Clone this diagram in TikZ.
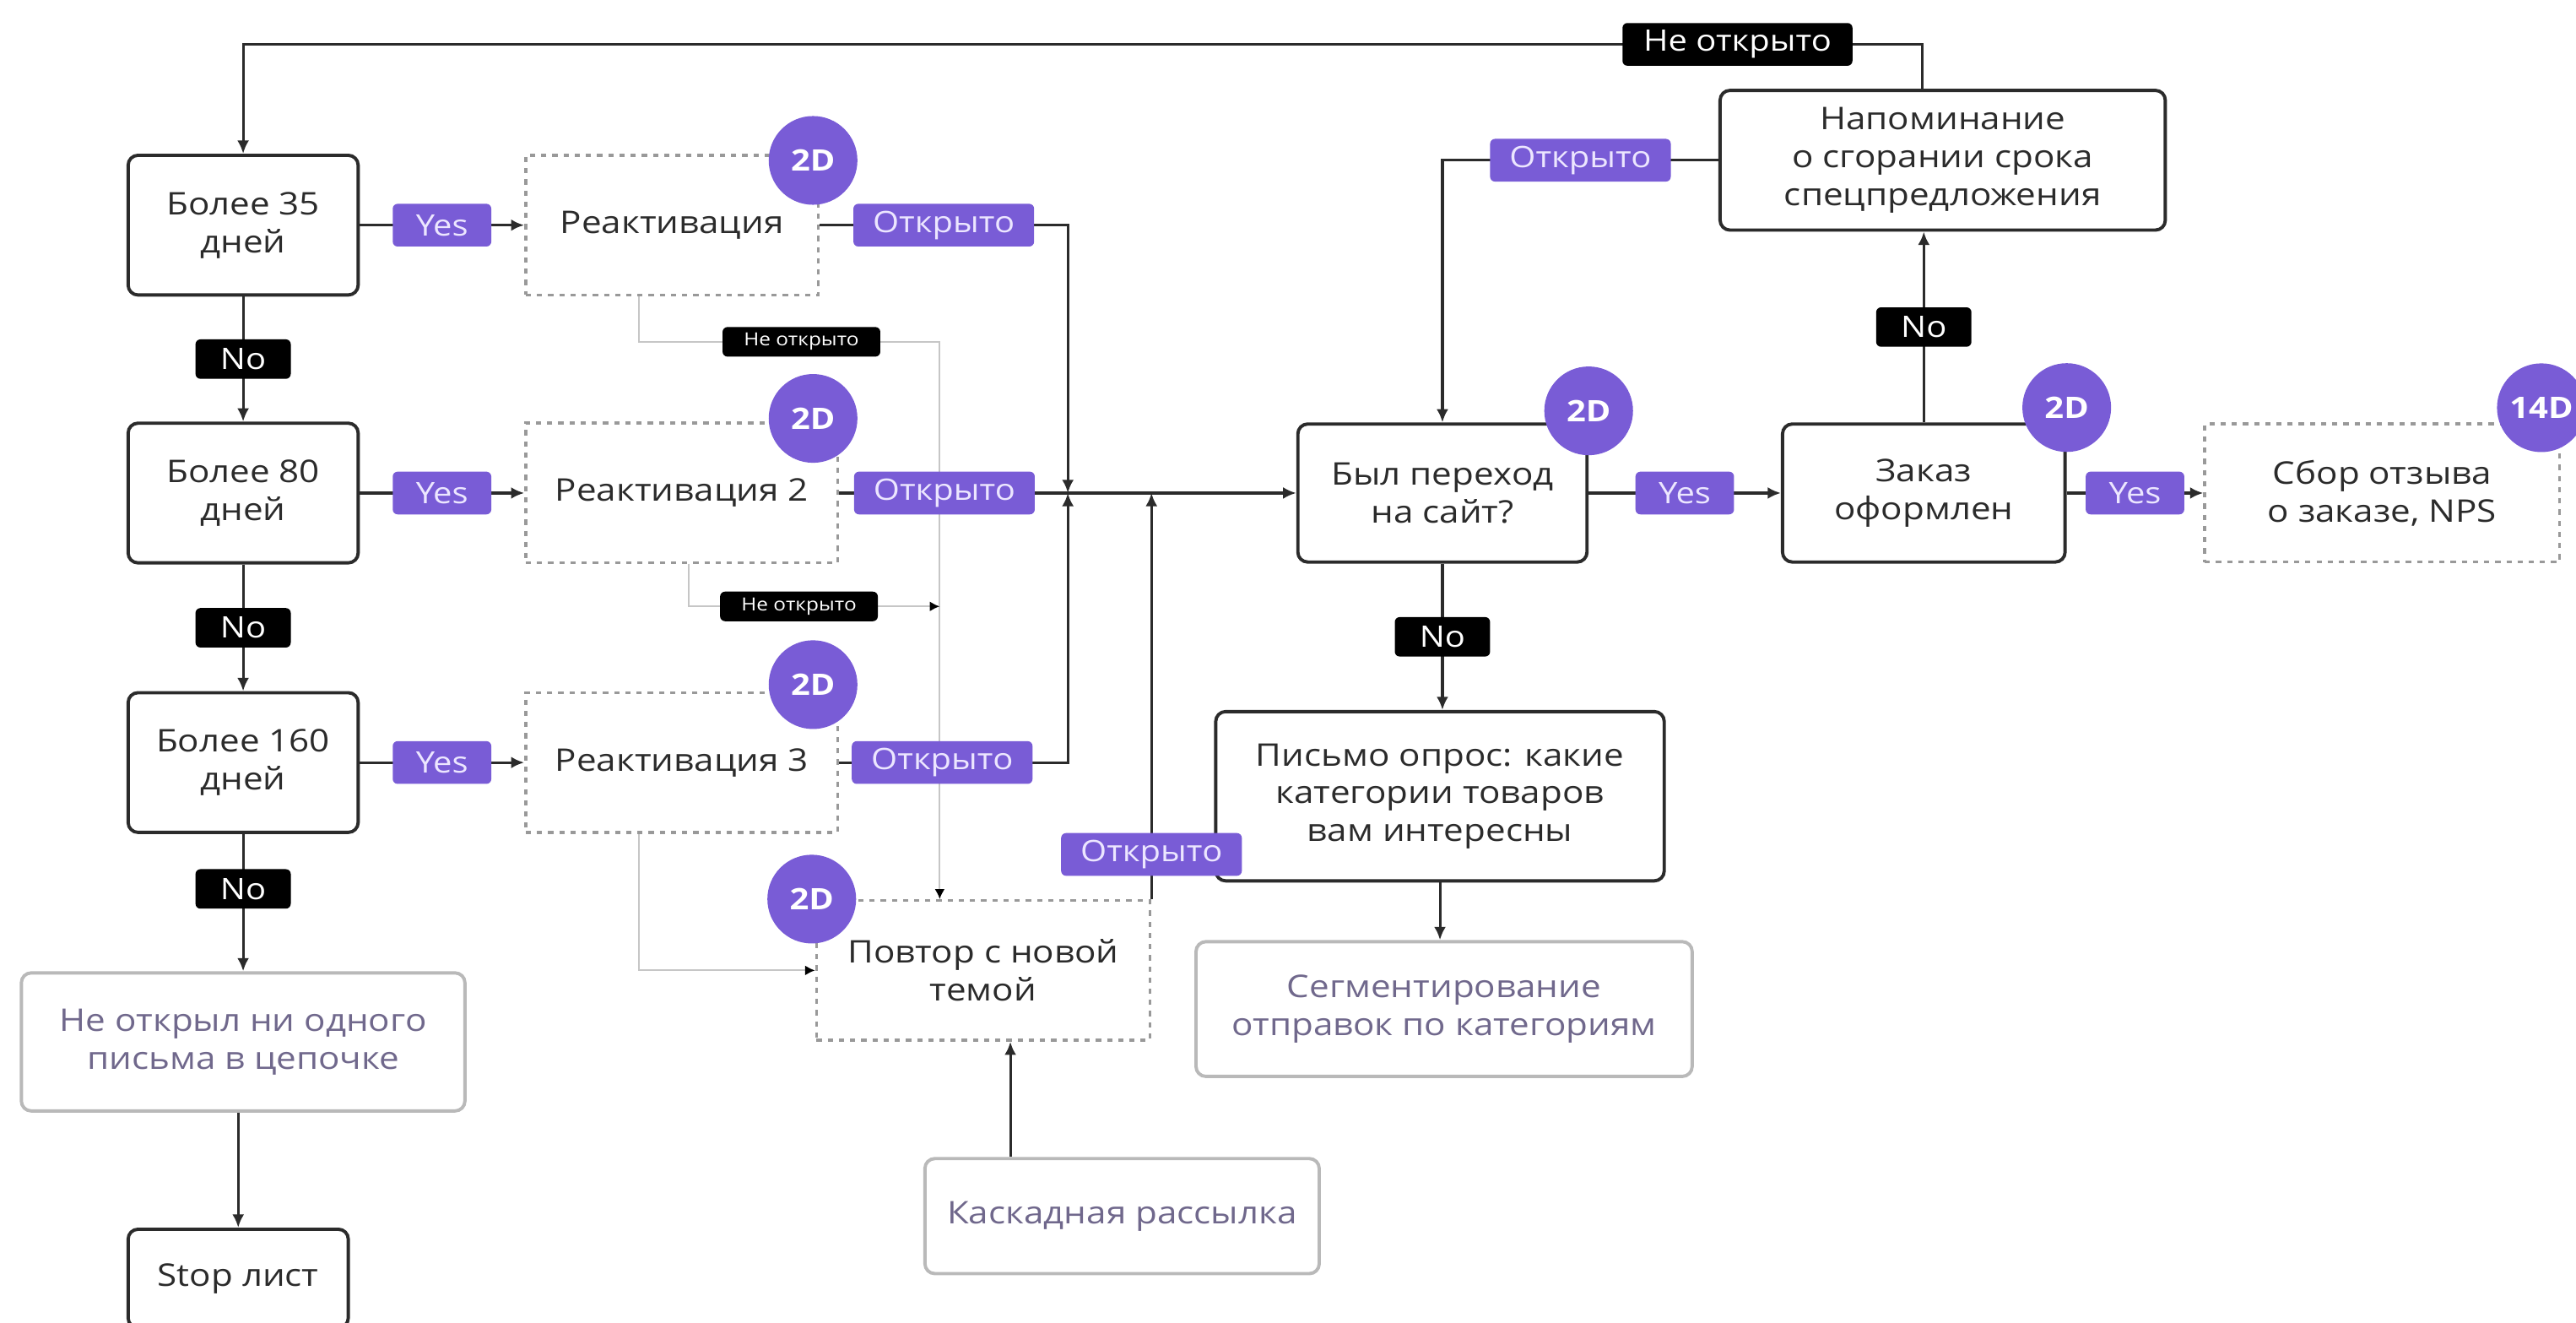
\documentclass[tikz,border=0pt]{standalone}
\usepackage{fontspec}
\setmainfont{Open Sans}[FakeStretch=1.14]
\usetikzlibrary{arrows.meta}

\definecolor{ink}{RGB}{43,43,43}
\definecolor{badge}{RGB}{121,92,214}
\definecolor{lilac}{RGB}{236,230,255}
\definecolor{soft}{RGB}{112,104,140}

\begin{document}
\begin{tikzpicture}[x=0.5pt,y=-0.5pt,
  every node/.style={font=\fontsize{9.5}{11.5}\selectfont, text=ink},
  box/.style={draw=ink, line width=1pt, rounded corners=3pt, fill=white, align=center, inner sep=0pt, minimum height=42.5pt},
  dotbox/.style={draw=gray!80, dash pattern=on 1.6pt off 1.8pt, line width=0.9pt, fill=white, align=center, inner sep=0pt, minimum height=42.5pt},
  softbox/.style={draw=gray!55, line width=1pt, rounded corners=3pt, fill=white, align=center, inner sep=0pt, text=soft},
  tag/.style={rounded corners=1.5pt, inner sep=0pt, minimum height=13pt, font=\fontsize{9}{10}\selectfont},
  yeslbl/.style={tag, fill=badge, text=lilac, minimum width=30pt},
  nolbl/.style={tag, fill=black, text=white, minimum width=29pt, minimum height=12pt},
  openlbl/.style={tag, fill=badge, text=lilac, minimum width=55pt},
  notlbl/.style={tag, fill=black, text=white, minimum width=70pt},
  smallnot/.style={tag, fill=black, text=white, minimum width=48pt, minimum height=9pt, font=\fontsize{5.5}{6}\selectfont},
  daybadge/.style={circle, fill=badge, text=white, inner sep=0pt, minimum size=27pt, font=\bfseries\fontsize{9}{10}\selectfont},
  arr/.style={draw=ink, line width=0.8pt, -{Latex[length=4pt,width=3.6pt]}},
  faint/.style={draw=gray!45, line width=0.5pt, -{Latex[length=3pt,width=3pt,color=black]}}
]
\useasboundingbox (0,0) rectangle (1568,805);

% left column
\node[box, minimum width=70pt] (b35) at (148,137) {Более 35\\дней};
\node[box, minimum width=70pt] (b80) at (148,300) {Более 80\\дней};
\node[box, minimum width=70pt] (b160) at (148,464) {Более 160\\дней};
\node[softbox, minimum width=135pt, minimum height=42pt] (lost) at (148,634) {Не открыл ни одного\\письма в цепочке};
\node[box, minimum width=67pt, minimum height=30pt] (stop) at (145,778) {Stop лист};

% reactivation mails
\node[dotbox, minimum width=89pt] (r1) at (409,137) {Реактивация};
\node[dotbox, minimum width=95pt] (r2) at (415,300) {Реактивация 2};
\node[dotbox, minimum width=95pt] (r3) at (415,464) {Реактивация 3};
\node[dotbox, minimum width=101.5pt] (rep) at (598.5,590.5) {Повтор с новой\\темой};
\node[softbox, minimum width=120pt, minimum height=35pt] (cascade) at (683,740) {Каскадная рассылка};

% right part
\node[box, minimum width=88pt, minimum height=42pt] (site) at (878,300) {Был переход\\на сайт?};
\node[box, minimum width=86pt, minimum height=42pt] (order) at (1171,300) {Заказ\\оформлен};
\node[box, minimum width=135.5pt] (remind) at (1182.5,97.5) {Напоминание\\о сгорании срока\\спецпредложения};
\node[dotbox, minimum width=108pt, minimum height=42pt] (review) at (1450,300) {Сбор отзыва\\о заказе, NPS};
\node[box, minimum width=136.5pt, minimum height=51.5pt] (survey) at (876.5,484.5) {Письмо опрос: какие\\категории товаров\\вам интересны};
\node[softbox, minimum width=151pt, minimum height=41pt] (segment) at (879,614) {Сегментирование\\отправок по категориям};

\coordinate (hub) at (650,300);
\coordinate (drop) at (572,208);
\coordinate (join) at (572,369);
\coordinate (loopR) at (1170,27);
\coordinate (loopL) at (148,27);

% not opened, grey paths
\draw[faint] ([xshift=-10pt]r1.south) |- node[smallnot, pos=0.77] (sn1) {Не открыто} (drop) -- (drop |- rep.north);
\draw[faint] ([xshift=2pt]r2.south) |- node[smallnot, pos=0.72] (sn2) {Не открыто} (join);
\draw[faint] ([xshift=-13pt]r3.south) |- (rep.west);

\draw[arr] (b35) -- node[nolbl] (no1) {No} (b80);
\draw[arr] (b80) -- node[nolbl] (no2) {No} (b160);
\draw[arr] (b160) -- node[nolbl, pos=0.4] (no3) {No} (lost);
\draw[arr] (stop |- lost.south) -- (stop);

\draw[arr] (b35) -- node[yeslbl] (yes1) {Yes} (r1);
\draw[arr] (b80) -- node[yeslbl] (yes2) {Yes} (r2);
\draw[arr] (b160) -- node[yeslbl] (yes3) {Yes} (r3);

\draw[arr] (r1) -- node[openlbl] (op1) {Открыто} (r1 -| hub) -- (hub);
\draw[arr] (r3) -- node[openlbl, pos=0.45] (op3) {Открыто} (r3 -| hub) -- (hub);
\draw[arr] (r2) -- node[openlbl, pos=0.23] (op2) {Открыто} (site);
\draw[arr] (rep.north east) -- node[openlbl, pos=0.11] (op4) {Открыто} (rep.north east |- hub);
\draw[arr] ([xshift=-34pt]cascade.north) -- ([xshift=-34pt]cascade.north |- rep.south);

\draw[arr] (remind) -- node[openlbl] (op5) {Открыто} (remind -| site) -- (site);
\draw[arr] (site) -- node[yeslbl] (yes4) {Yes} (order);
\draw[arr] (order.north) -- node[nolbl] (no5) {No} (order.north |- remind.south);
\draw[arr] (order) -- node[yeslbl] (yes5) {Yes} (review);
\draw[arr] (site) -- node[nolbl] (no4) {No} (site |- survey.north);
\draw[arr] (survey) -- (survey |- segment.north);
\draw[arr] (remind.north -| loopR) -- (loopR) -- node[notlbl, pos=0.11] (nt) {Не открыто} (loopL) -- (b35);

% day badges
\node[daybadge] (d1) at ([shift={(-2pt,-2pt)}]r1.north east) {2D};
\node[daybadge] (d2) at ([shift={(-8pt,1pt)}]r2.north east) {2D};
\node[daybadge] (d3) at ([shift={(-8pt,2pt)}]r3.north east) {2D};
\node[daybadge] (d4) at ([shift={(-1pt,0pt)}]rep.north west) {2D};
\node[daybadge] (d5) at ([shift={(0pt,3.5pt)}]site.north east) {2D};
\node[daybadge] (d6) at ([shift={(0pt,4.5pt)}]order.north east) {2D};
\node[daybadge] (d7) at ([shift={(-6pt,4.5pt)}]review.north east) {14D};
\end{tikzpicture}
\end{document}
